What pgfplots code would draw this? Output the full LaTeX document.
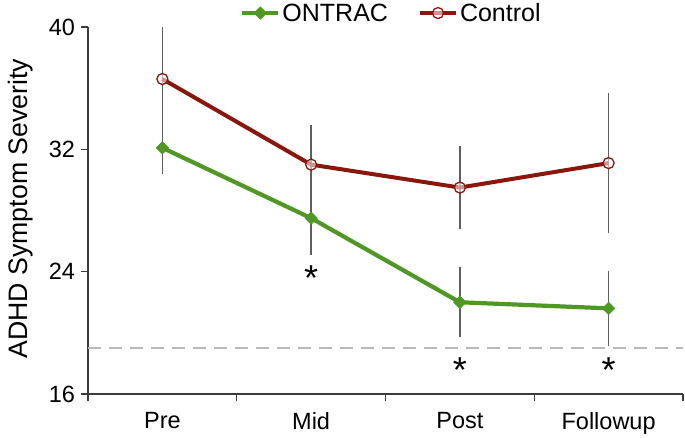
\documentclass[border=0pt]{standalone}
\usepackage{fontspec}
\setmainfont{Liberation Sans}
\usepackage{pgfplots}
\pgfplotsset{compat=1.18}
\definecolor{ontrac}{RGB}{79,152,36}
\definecolor{ctrl}{RGB}{139,22,12}
\definecolor{ebar}{RGB}{95,95,95}
\definecolor{axisgray}{RGB}{60,60,60}
\begin{document}
\begin{tikzpicture}
\begin{axis}[
  scale only axis, width=595pt, height=367pt,
  xmin=0, xmax=4, ymin=16, ymax=40,
  axis lines=left,
  axis line style={-, line width=1.2pt, axisgray},
  xtick={0.5,1.5,2.5,3.5},
  xticklabels={Pre,Mid,Post,Followup},
  minor xtick={0,1,2,3,4},
  major x tick style={draw=none},
  ytick={16,24,32,40},
  major tick length=7pt,
  minor tick length=7pt,
  tick align=outside,
  tick style={line width=1.2pt, axisgray},
  /pgf/number format/assume math mode=true,
  ticklabel style={font=\fontsize{23.5}{28}\selectfont},
  xticklabel style={yshift=-8pt},
  yticklabel style={xshift=-2.5pt},
  clip=false,
  legend style={at={(axis description cs:0.510,1.038)}, anchor=center,
    draw=none, fill=none, legend columns=2,
    font=\fontsize{25}{30}\selectfont,
    /tikz/every even column/.append style={column sep=28pt}},
  legend image code/.code={\draw[mark repeat=2,mark phase=2] plot coordinates {(0pt,0pt)(18pt,0pt)(36pt,0pt)};},
]
% reference line
\addplot[forget plot, draw={rgb,255:red,185;green,185;blue,185}, line width=1.6pt, dash pattern=on 13pt off 8pt] coordinates {(0,19) (4,19)};
% error bars (drawn first so they sit behind)
\addplot[forget plot, draw=none, mark=none,
  error bars/.cd, y dir=both, y explicit, error mark=none,
  error bar style={line width=1.6pt, ebar}]
  coordinates {(0.5,36.6) +- (0,3.4) (1.5,31.0) +- (0,2.6) (2.5,29.5) +- (0,2.7) (3.5,31.1) +- (0,4.6)};
\addplot[forget plot, draw=none, mark=none,
  error bars/.cd, y dir=both, y explicit, error mark=none,
  error bar style={line width=1.6pt, ebar}]
  coordinates {(0.5,32.1) +- (0,1.7) (1.5,27.5) +- (0,2.4) (2.5,22.0) +- (0,2.3) (3.5,21.6) +- (0,2.45)};
% series
\addplot[ontrac, line width=4.2pt, mark=square*, mark size=4.4pt,
  mark options={solid, rotate=45, fill=ontrac, draw=ontrac, line width=0.6pt}]
  coordinates {(0.5,32.1) (1.5,27.5) (2.5,22.0) (3.5,21.6)};
\addlegendentry{ONTRAC}
\addplot[ctrl, line width=4pt, mark=*, mark size=5.5pt,
  mark options={solid, fill=white, fill opacity=0.55, draw=ctrl, line width=1.3pt}]
  coordinates {(0.5,36.6) (1.5,31.0) (2.5,29.5) (3.5,31.1)};
\addlegendentry{Control}
% significance markers
\node[font=\fontsize{36}{40}\selectfont, anchor=base] at (axis cs:1.5,22.8) {*};
\node[font=\fontsize{36}{40}\selectfont, anchor=base] at (axis cs:2.5,16.78) {*};
\node[font=\fontsize{36}{40}\selectfont, anchor=base] at (axis cs:3.5,16.78) {*};
% y label
\node[rotate=90, font=\fontsize{26.7}{30}\selectfont] at (axis description cs:-0.114,0.505) {ADHD Symptom Severity};
\end{axis}
\pgfresetboundingbox
\path[use as bounding box] (-88pt,-43pt) rectangle (597pt,394pt);
\end{tikzpicture}
\end{document}
